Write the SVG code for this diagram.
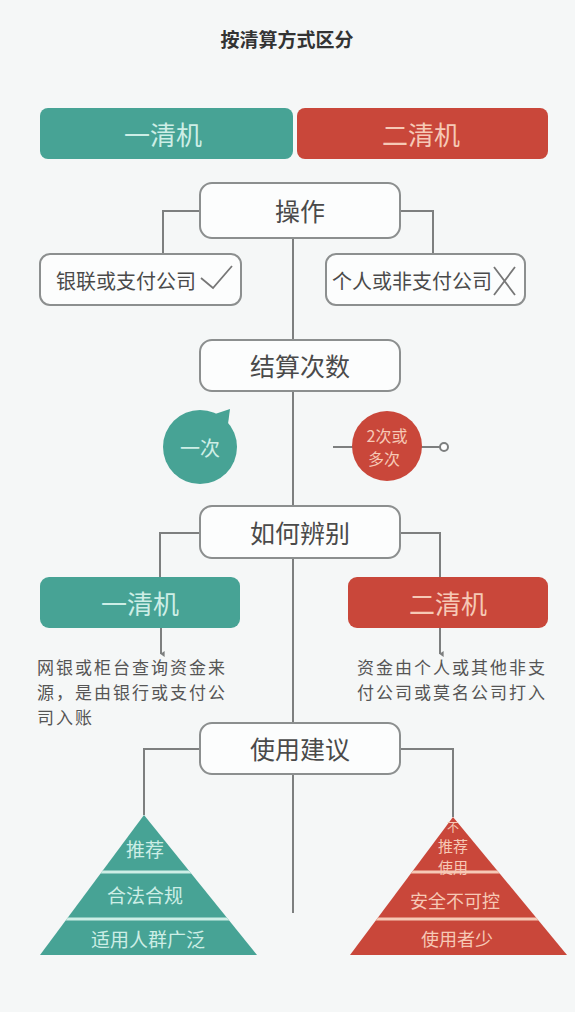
<svg xmlns="http://www.w3.org/2000/svg" width="575" height="1012" viewBox="0 0 575 1012">
<defs>
<style>
text{font-family:"Noto Sans CJK SC","Noto Sans",sans-serif;dominant-baseline:central;text-anchor:middle}
.box{fill:#fcfdfd;stroke:#8c8f8f;stroke-width:2}
.lbl{font-size:25px;fill:#4a4a4a}
.sm{font-size:17px;letter-spacing:2px;fill:#555;text-anchor:start}
.conn{fill:none;stroke:#7d7f7f;stroke-width:2}
.teal{fill:#47a395}
.red{fill:#c9473a}
.tl{fill:#cdeee6}
.rl{fill:#f6c9b6}
.sep{stroke-width:3}
</style>
<marker id="ah" viewBox="0 0 10 10" refX="5" refY="8" markerWidth="6" markerHeight="6" orient="auto-start-reverse" markerUnits="userSpaceOnUse">
<path d="M0,2 L5,9 L10,2 Z" fill="#7d7f7f"/>
</marker>
<clipPath id="clipL"><polygon points="144,815 257,955 40,955"/></clipPath>
<clipPath id="clipR"><polygon points="453,817 567,955 350,955"/></clipPath>
</defs>
<rect width="575" height="1012" fill="#f5f7f7"/>
<g id="title"><text x="287" y="38" style="font-size:19px;font-weight:bold;fill:#333">按清算方式区分</text></g>

<g id="connectors">
<line class="conn" x1="293" y1="238" x2="293" y2="913"/>
<polyline class="conn" points="200,211 163,211 163,254"/>
<polyline class="conn" points="400,211 433,211 433,254"/>
<polyline class="conn" points="200,533 160,533 160,577"/>
<polyline class="conn" points="400,533 440,533 440,577"/>
<line class="conn" x1="161" y1="628" x2="161" y2="654" marker-end="url(#ah)"/>
<line class="conn" x1="440" y1="628" x2="440" y2="654" marker-end="url(#ah)"/>
<polyline class="conn" points="200,749 144,749 144,815"/>
<polyline class="conn" points="400,749 453,749 453,817"/>
<line class="conn" x1="333" y1="447" x2="440" y2="447"/>
<circle cx="444" cy="447" r="4" fill="#fff" stroke="#7d7f7f" stroke-width="2"/>
</g>

<g id="bar-yiqing"><rect x="40" y="108" width="253" height="51" rx="8" class="teal"/><text x="163" y="133" class="tl" style="font-size:26px">一清机</text></g>
<g id="bar-erqing"><rect x="297" y="108" width="251" height="51" rx="8" class="red"/><text x="421" y="133" class="rl" style="font-size:26px">二清机</text></g>

<g id="caozuo"><rect x="200" y="183" width="200" height="55" rx="12" class="box"/><text x="300" y="210" class="lbl">操作</text></g>
<g id="yinlian"><rect x="40" y="254" width="201" height="51" rx="10" class="box"/><text x="56" y="280" class="lbl" style="font-size:20px;text-anchor:start">银联或支付公司</text><polyline points="201,278 213,288 232,266" fill="none" stroke="#777" stroke-width="1.8"/></g>
<g id="geren"><rect x="326" y="254" width="199" height="51" rx="10" class="box"/><text x="332" y="280" class="lbl" style="font-size:20px;text-anchor:start">个人或非支付公司</text><path d="M494,267 L515,295 M515,267 L494,295" fill="none" stroke="#777" stroke-width="1.8"/></g>

<g id="jiesuan"><rect x="200" y="340" width="200" height="51" rx="12" class="box"/><text x="300" y="365" class="lbl">结算次数</text></g>
<g id="yici"><circle cx="200" cy="447" r="37" class="teal"/><polygon points="215,414 230,409 228,424" class="teal"/><text x="200" y="447" class="tl" style="font-size:20px">一次</text></g>
<g id="duoci"><circle cx="387" cy="446" r="35" class="red"/><text class="rl" style="font-size:16px"><tspan x="387" y="435">2次或</tspan><tspan x="384" y="458">多次</tspan></text></g>

<g id="bianbie"><rect x="200" y="506" width="200" height="52" rx="12" class="box"/><text x="300" y="532" class="lbl">如何辨别</text></g>
<g id="yiqing2"><rect x="40" y="577" width="200" height="51" rx="9" class="teal"/><text x="140" y="602" class="tl" style="font-size:26px">一清机</text></g>
<g id="erqing2"><rect x="348" y="577" width="200" height="51" rx="9" class="red"/><text x="448" y="602" class="rl" style="font-size:26px">二清机</text></g>
<g id="desc-left"><text class="sm"><tspan x="37" y="666">网银或柜台查询资金来</tspan><tspan x="37" y="691">源，是由银行或支付公</tspan><tspan x="37" y="716">司入账</tspan></text></g>
<g id="desc-right"><text class="sm"><tspan x="357" y="666">资金由个人或其他非支</tspan><tspan x="357" y="691">付公司或莫名公司打入</tspan></text></g>

<g id="jianyi"><rect x="200" y="723" width="200" height="51" rx="12" class="box"/><text x="300" y="748" class="lbl">使用建议</text></g>

<g id="pyramid-left"><polygon points="144,815 257,955 40,955" class="teal"/>
<g clip-path="url(#clipL)"><line x1="30" y1="872" x2="270" y2="872" stroke="#cdeee6" class="sep"/>
<line x1="30" y1="919" x2="270" y2="919" stroke="#cdeee6" class="sep"/></g>
<text x="145" y="848" class="tl" style="font-size:19px">推荐</text>
<text x="145" y="894" class="tl" style="font-size:19px">合法合规</text>
<text x="148" y="938" class="tl" style="font-size:19px">适用人群广泛</text></g>

<g id="pyramid-right"><polygon points="453,817 567,955 350,955" class="red"/>
<g clip-path="url(#clipR)"><line x1="340" y1="872" x2="575" y2="872" stroke="#f6c9b6" class="sep"/>
<line x1="340" y1="919" x2="575" y2="919" stroke="#f6c9b6" class="sep"/></g>
<text class="rl" style="font-size:15px"><tspan x="453" y="826" style="font-size:12px">不</tspan><tspan x="453" y="845">推荐</tspan><tspan x="453" y="866">使用</tspan></text>
<text x="455" y="900" class="rl" style="font-size:18px">安全不可控</text>
<text x="457" y="938" class="rl" style="font-size:18px">使用者少</text></g>
</svg>
